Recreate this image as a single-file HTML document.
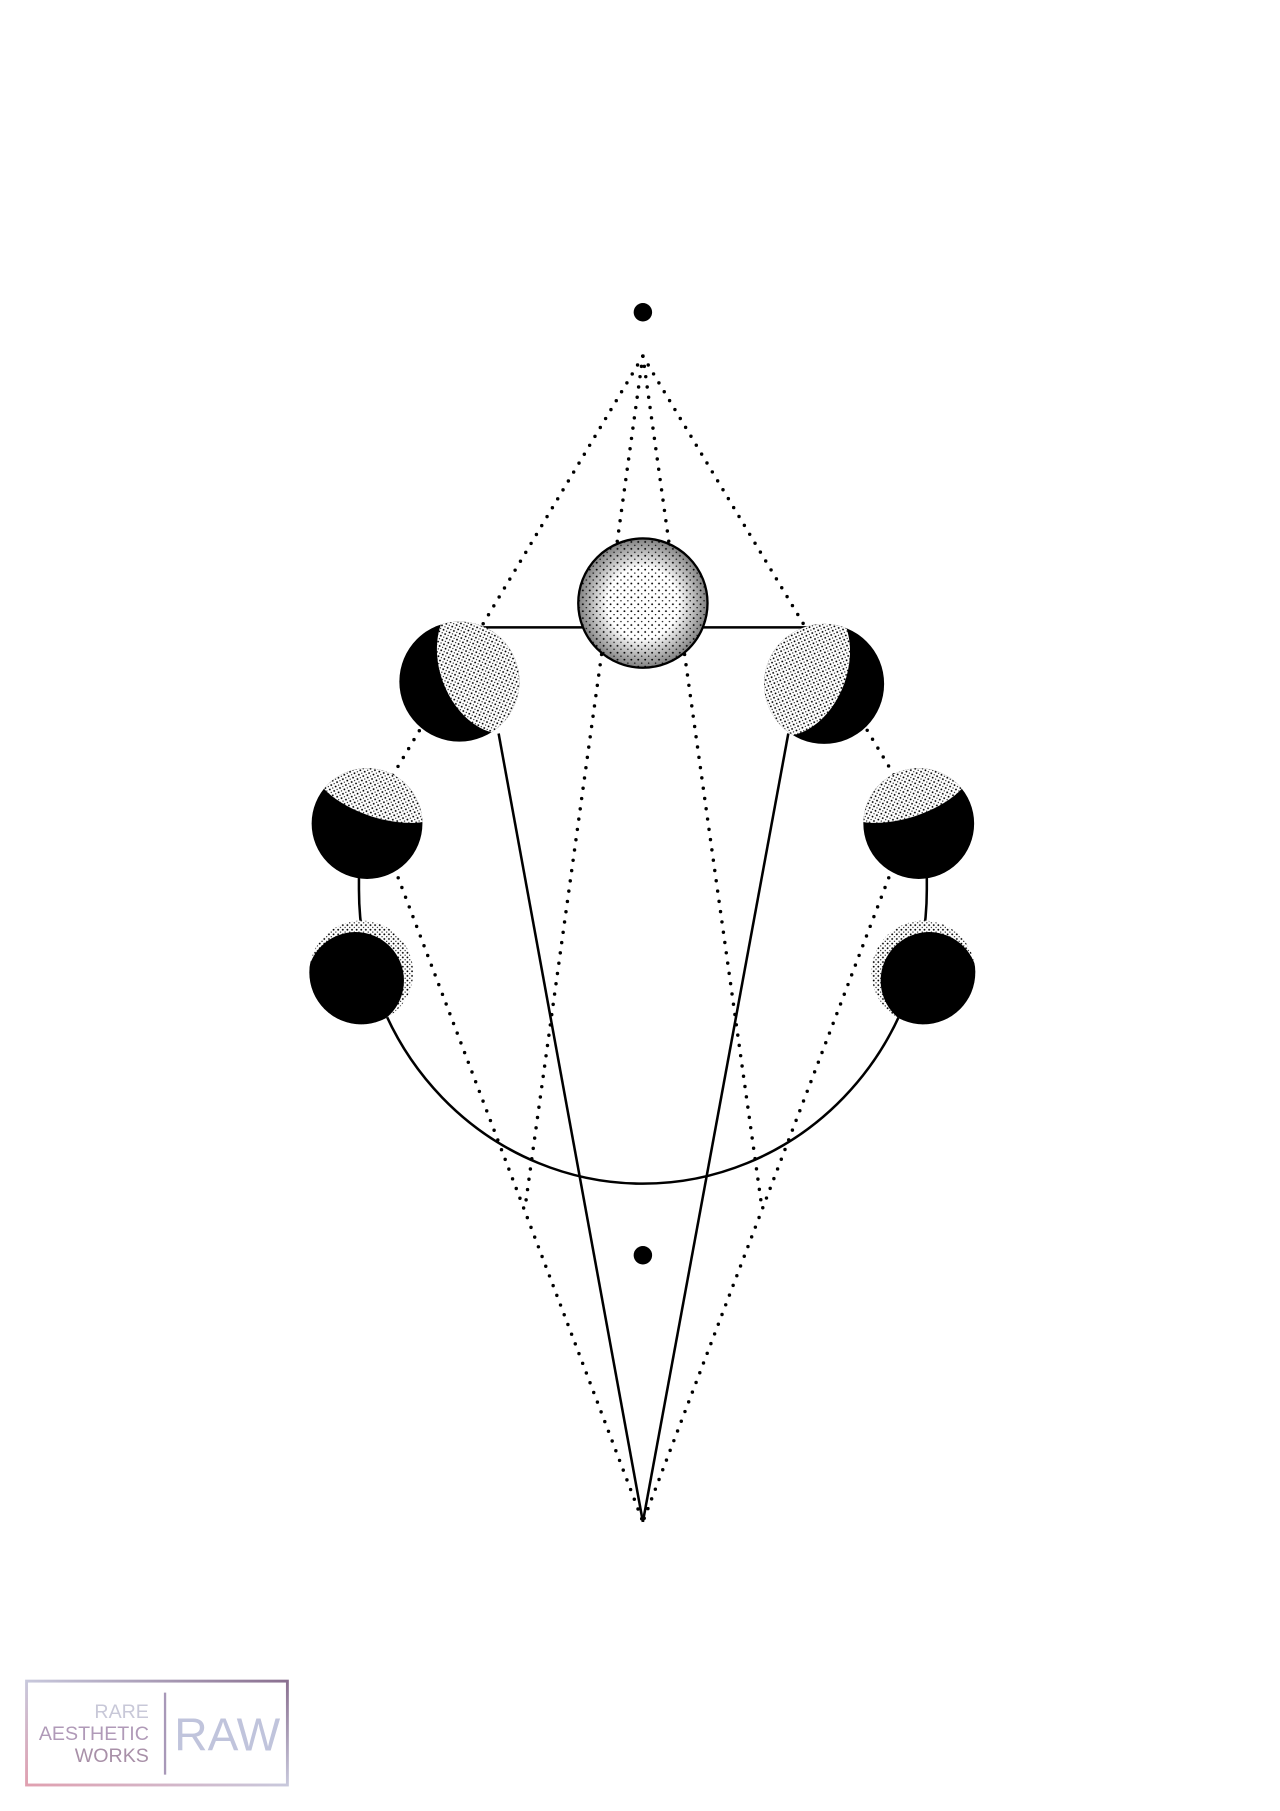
<!DOCTYPE html>
<html><head><meta charset="utf-8"><style>html,body{margin:0;padding:0;background:#fff}svg{display:block}</style></head>
<body>
<svg width="1280" height="1811" viewBox="0 0 1109 1568" xmlns="http://www.w3.org/2000/svg">
<defs>
<pattern id="st" width="4" height="4" patternUnits="userSpaceOnUse">
<circle cx="1" cy="1" r="0.8" fill="#000"/><circle cx="3" cy="3" r="0.55" fill="#000"/>
</pattern>
<pattern id="st2" width="6" height="6" patternUnits="userSpaceOnUse">
<circle cx="1" cy="1" r="0.8" fill="#000"/><circle cx="4" cy="4" r="0.6" fill="#000"/>
</pattern>
<radialGradient id="rim"><stop offset="0.55" stop-color="#000" stop-opacity="0"/><stop offset="1" stop-color="#000" stop-opacity="0.5"/></radialGradient>
<linearGradient id="lg" x1="0" y1="1" x2="1" y2="0"><stop offset="0" stop-color="#e0a0b0"/><stop offset="0.5" stop-color="#c8c8dc"/><stop offset="1" stop-color="#8a7090"/></linearGradient>
<clipPath id="c1"><circle cx="398" cy="590" r="52"/></clipPath>
<clipPath id="c2"><circle cx="714" cy="592" r="52"/></clipPath>
<clipPath id="c3"><circle cx="318" cy="713" r="48"/></clipPath>
<clipPath id="c4"><circle cx="796" cy="713" r="48"/></clipPath>
<clipPath id="c5"><circle cx="313" cy="842" r="45"/></clipPath>
<clipPath id="c6"><circle cx="800" cy="842" r="45"/></clipPath>
</defs>
<rect width="1109" height="1568" fill="#fff"/>
<g fill="none" stroke="#000" stroke-width="3" stroke-dasharray="0 9" stroke-linecap="round">
<line x1="557" y1="308" x2="335" y2="680"/>
<line x1="557" y1="308" x2="780" y2="680"/>
<line x1="557" y1="308" x2="455" y2="1045"/>
<line x1="557" y1="308" x2="660" y2="1045"/>
<line x1="345" y1="760" x2="557" y2="1318"/>
<line x1="770" y1="760" x2="557" y2="1318"/>
</g>
<g fill="none" stroke="#000" stroke-width="2.2">
<line x1="415" y1="543" x2="700" y2="543"/>
<line x1="432" y1="635" x2="557" y2="1318"/>
<line x1="683" y1="635" x2="557" y2="1318"/>
<path d="M311 740 L311 770 A246 255 0 0 0 803 770 L803 740"/>
</g>
<circle cx="557" cy="270" r="8" fill="#000"/>
<circle cx="557" cy="1087" r="8" fill="#000"/>
<circle cx="557" cy="522" r="56" fill="#fff"/>
<circle cx="557" cy="522" r="56" fill="url(#st2)"/>
<circle cx="557" cy="522" r="56" fill="url(#rim)"/>
<circle cx="557" cy="522" r="56" fill="none" stroke="#000" stroke-width="2"/>
<circle cx="398" cy="590" r="52" fill="#000"/>
<g clip-path="url(#c1)"><ellipse cx="425" cy="575" rx="44" ry="62" transform="rotate(-20 425 575)" fill="#fff"/><ellipse cx="425" cy="575" rx="44" ry="62" transform="rotate(-20 425 575)" fill="url(#st)"/></g>
<circle cx="714" cy="592" r="52" fill="#000"/>
<g clip-path="url(#c2)"><ellipse cx="690" cy="577" rx="44" ry="62" transform="rotate(20 690 577)" fill="#fff"/><ellipse cx="690" cy="577" rx="44" ry="62" transform="rotate(20 690 577)" fill="url(#st)"/></g>
<circle cx="318" cy="713" r="48" fill="#000"/>
<g clip-path="url(#c3)"><ellipse cx="330" cy="680" rx="60" ry="28" transform="rotate(18 330 680)" fill="#fff"/><ellipse cx="330" cy="680" rx="60" ry="28" transform="rotate(18 330 680)" fill="url(#st)"/></g>
<circle cx="796" cy="713" r="48" fill="#000"/>
<g clip-path="url(#c4)"><ellipse cx="784" cy="680" rx="60" ry="28" transform="rotate(-18 784 680)" fill="#fff"/><ellipse cx="784" cy="680" rx="60" ry="28" transform="rotate(-18 784 680)" fill="url(#st)"/></g>
<g clip-path="url(#c5)"><circle cx="313" cy="842" r="45" fill="#fff"/><circle cx="313" cy="842" r="45" fill="url(#st)"/><circle cx="308" cy="849" r="42" fill="#000"/></g>
<g clip-path="url(#c6)"><circle cx="800" cy="842" r="45" fill="#fff"/><circle cx="800" cy="842" r="45" fill="url(#st)"/><circle cx="805" cy="849" r="42" fill="#000"/></g>
<rect x="23" y="1456" width="226" height="90" fill="none" stroke="url(#lg)" stroke-width="2.5"/>
<line x1="143" y1="1466" x2="143" y2="1537" stroke="#a898b8" stroke-width="2"/>
<g font-family="Liberation Sans, sans-serif" text-anchor="end">
<text x="129" y="1488" font-size="17" fill="#c8c8d8">RARE</text>
<text x="129" y="1507" font-size="17" fill="#b09ab8">AESTHETIC</text>
<text x="129" y="1526" font-size="17" fill="#a890a8">WORKS</text>
</g>
<text x="151" y="1516" font-family="Liberation Sans, sans-serif" font-size="40" fill="#c0c4dc">RAW</text>
</svg>
</body></html>
